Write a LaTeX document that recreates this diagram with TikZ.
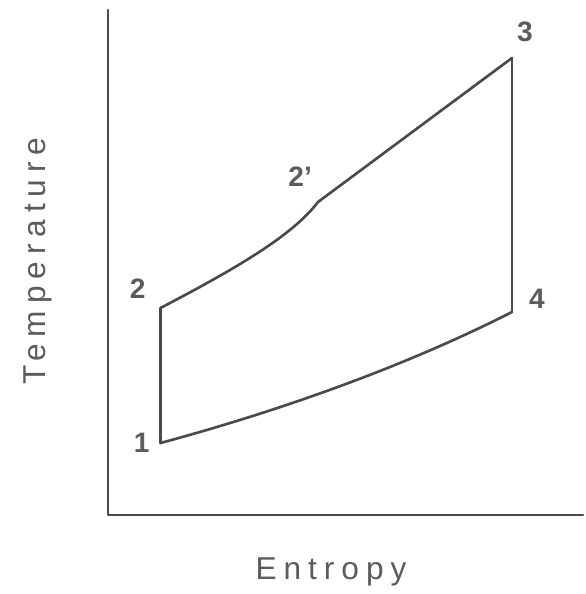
\documentclass[tikz,border=0pt]{standalone}
\usepackage{fontspec}
\setmainfont{Liberation Sans}
\newfontfamily\spacedfont[LetterSpace=22]{Liberation Sans}
\usetikzlibrary{positioning, calc}
\definecolor{InkLine}{HTML}{4A4A4A}
\definecolor{InkText}{HTML}{5C5C5C}
\tikzset{
  axisline/.style={draw=InkLine, line width=1.5pt, line cap=round, line join=round},
  procline/.style={draw=InkLine, line width=1.5pt, line cap=round, line join=round},
  statelbl/.style={font=\fontsize{16}{19}\selectfont\bfseries, text=InkText, inner sep=1pt},
  axislbl/.style={font=\spacedfont\fontsize{18}{21}\selectfont, text=InkText, inner sep=1pt},
}

\begin{document}
\begin{tikzpicture}
    \useasboundingbox (-2.16,-1.58) rectangle (9.56,10.3);
    % axes
    \coordinate (origin) at (0,0);
    \coordinate (ytop) at (0,10.1);
    \coordinate (xend) at (9.5,0);
    \draw[axisline] (ytop) -- (origin) -- (xend);
    \node[axislbl, rotate=90] (tlab) at (-1.4,5.08) {Temperature};
    \node[axislbl] (slab) at (4.46,-1.14) {Entropy};
    % state points
    \coordinate (p1) at (1.05,1.44);
    \coordinate (p2) at (1.05,4.14);
    \coordinate (p2s) at (4.2,6.26);
    \coordinate (p3) at (8.08,9.14);
    \coordinate (p4) at (8.08,4.06);
    % cycle
    \draw[procline] (p1) -- (p2);
    \draw[procline] (p2) .. controls (2.6,4.95) and (3.7,5.6) .. (p2s);
    \draw[procline] (p2s) -- (p3);
    \draw[procline] (p3) -- (p4);
    \draw[procline] (p1) .. controls (3.5,2.1) and (6,3.0) .. (p4);
    % labels
    \node[statelbl, left=0.18cm of p1] (l1) {1};
    \node[statelbl, above left=0.14cm and 0.26cm of p2] (l2) {2};
    \node[statelbl, above left=0.26cm and 0.08cm of p2s] (l2s) {2'};
    \node[statelbl, above right=0.28cm and 0.06cm of p3] (l3) {3};
    \node[statelbl, above right=0.02cm and 0.3cm of p4] (l4) {4};
\end{tikzpicture}
\end{document}
